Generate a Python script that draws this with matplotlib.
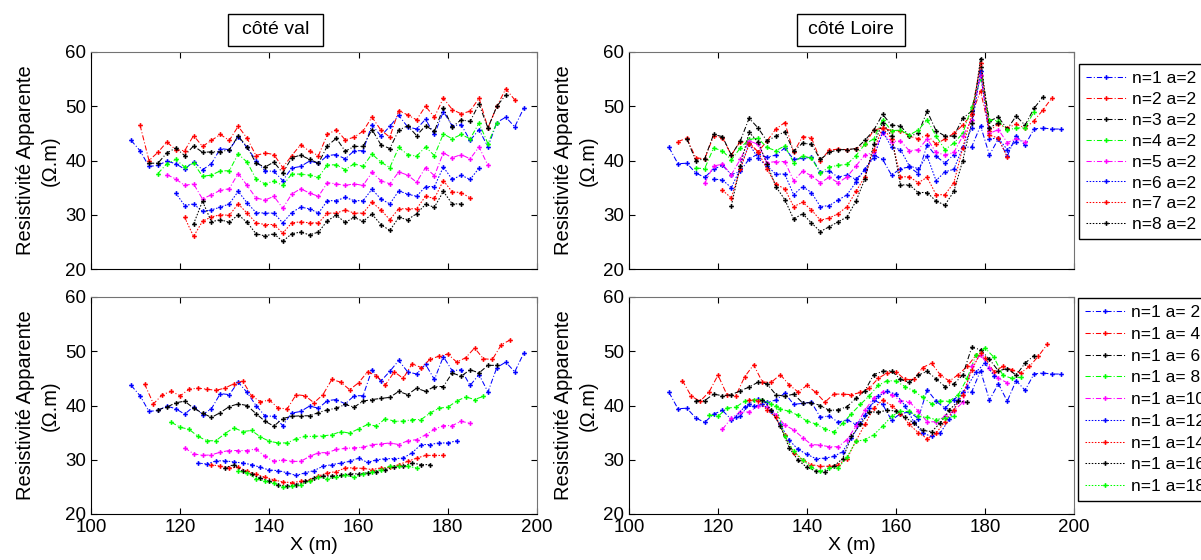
import numpy as np
import matplotlib.pyplot as plt
from matplotlib.patches import Rectangle

plt.rcParams['font.family'] = ['Liberation Sans', 'DejaVu Sans']

# first position of each series (m), one point every 2 m
top_start = [109, 111, 113, 115, 117, 119, 121, 123]
bot_start = [109, 112, 115, 118, 121, 124, 127, 130, 133]
step = 2

top_labels = ['n=1 a=2', 'n=2 a=2', 'n=3 a=2', 'n=4 a=2', 'n=5 a=2',
              'n=6 a=2', 'n=7 a=2', 'n=8 a=2']
bot_labels = ['n=1 a= 2', 'n=1 a= 4', 'n=1 a= 6', 'n=1 a= 8', 'n=1 a=10',
              'n=1 a=12', 'n=1 a=14', 'n=1 a=16', 'n=1 a=18']

# cote val, a=2, n=1..8
val_n1 = [43.7, 41.8, 38.9, 39.1, 39.9, 39.4, 38.4, 39.8, 38.3, 39.4, 42.2, 42.0, 44.3, 42.4, 40.0,
          38.1, 38.0, 36.3, 38.6, 38.9, 39.9, 39.5, 40.9, 41.1, 40.3, 41.8, 41.8, 46.6, 44.5, 46.3,
          48.3, 46.2, 45.8, 47.6, 44.8, 49.0, 46.4, 46.6, 43.7, 45.7, 42.5, 47.0, 48.0, 46.2, 49.6]
val_n2 = [46.5, 40.0, 41.5, 43.4, 42.0, 41.8, 44.6, 42.6, 43.7, 44.8, 43.7, 46.3, 44.1, 40.9, 41.4,
          41.1, 38.7, 40.9, 42.9, 41.7, 40.9, 44.8, 45.7, 43.8, 44.3, 45.4, 48.0, 45.6, 44.3, 49.2,
          48.4, 47.5, 50.0, 48.0, 51.5, 49.4, 48.6, 49.1, 51.5, 46.0, 50.0, 53.2, 51.2]
val_n3 = [39.5, 39.5, 41.4, 42.3, 40.9, 42.7, 41.5, 41.6, 41.6, 42.0, 44.5, 42.5, 39.5, 38.8, 39.7,
          37.7, 40.5, 41.0, 40.2, 39.5, 42.7, 44.1, 41.7, 42.6, 42.6, 45.7, 42.9, 42.2, 45.6, 46.4,
          44.6, 46.4, 45.4, 49.7, 46.2, 47.5, 47.2, 50.4, 46.0, 50.0, 52.1]
val_n4 = [37.6, 39.4, 40.2, 38.8, 39.5, 37.1, 37.3, 38.1, 38.1, 41.2, 39.7, 36.6, 35.7, 36.2, 35.4,
          37.5, 37.5, 37.3, 36.9, 39.2, 39.2, 38.3, 39.4, 38.9, 41.2, 39.7, 38.7, 42.4, 41.1, 40.8,
          42.5, 40.9, 44.9, 44.0, 44.8, 44.0, 46.9, 43.1, 47.0]
val_n5 = [37.4, 36.6, 35.4, 35.7, 32.9, 33.7, 34.5, 34.8, 37.6, 35.4, 33.1, 32.7, 33.4, 31.2, 33.8,
          34.8, 34.0, 33.4, 35.9, 35.7, 35.4, 35.7, 35.4, 37.8, 36.3, 35.7, 37.9, 37.3, 36.0, 38.7,
          37.2, 41.4, 40.5, 41.1, 40.3, 42.5, 39.1]
val_n6 = [34.0, 31.7, 32.0, 30.6, 30.9, 31.4, 32.0, 34.3, 32.2, 30.4, 30.3, 30.3, 28.5, 30.4, 31.4,
          31.1, 30.3, 32.6, 32.6, 33.2, 32.6, 32.6, 34.7, 32.9, 32.0, 34.4, 33.8, 33.4, 35.2, 35.2,
          38.8, 36.5, 37.3, 36.5, 38.6]
val_n7 = [29.5, 26.0, 28.8, 29.6, 30.0, 29.9, 32.0, 30.3, 28.5, 28.2, 28.2, 26.6, 28.5, 28.7, 28.5,
          28.5, 30.3, 30.3, 30.9, 30.3, 30.3, 32.3, 30.9, 29.1, 31.1, 31.1, 31.1, 33.4, 33.0, 36.3,
          34.2, 34.1, 33.1]
val_n8 = [28.3, 32.5, 28.7, 29.1, 28.6, 30.0, 28.6, 26.5, 26.1, 26.5, 25.1, 26.5, 26.8, 26.3, 26.8,
          28.9, 29.9, 28.6, 29.5, 28.8, 30.1, 28.2, 27.1, 29.5, 29.1, 30.2, 31.9, 31.4, 34.3, 32.0,
          32.0]

# cote val, n=1, a=4..18 (a=2 is val_n1)
val_a4 = [44.0, 40.3, 42.0, 42.6, 41.8, 43.0, 43.2, 43.0, 42.8, 43.2, 44.0, 44.5, 41.8, 40.7, 41.0,
          39.5, 39.4, 42.0, 41.8, 40.5, 42.0, 44.8, 44.3, 42.9, 44.2, 46.2, 45.5, 43.8, 46.2, 45.0,
          47.7, 47.0, 48.5, 49.1, 49.5, 48.0, 48.8, 50.6, 48.6, 48.5, 51.2, 52.1]
val_a6 = [39.2, 39.7, 40.5, 40.8, 39.5, 38.6, 37.8, 38.7, 39.8, 40.3, 40.0, 38.5, 37.1, 36.2, 37.6,
          38.0, 38.1, 38.1, 38.7, 39.2, 39.5, 40.2, 39.7, 40.8, 41.1, 41.3, 41.5, 42.6, 42.0, 43.2,
          42.6, 43.5, 43.5, 46.0, 45.4, 46.6, 46.0, 47.4, 47.4]
val_a8 = [36.9, 36.0, 35.6, 34.3, 33.5, 33.5, 34.8, 35.9, 35.2, 35.4, 34.2, 33.4, 33.1, 33.1, 33.9,
          34.3, 34.3, 34.4, 34.6, 35.2, 34.9, 35.7, 36.5, 36.2, 37.6, 37.1, 37.1, 37.4, 37.4, 38.6,
          39.5, 39.7, 40.8, 41.6, 41.1, 41.7]
val_a10 = [32.2, 31.1, 30.8, 30.9, 31.4, 31.7, 31.7, 31.7, 32.0, 30.6, 29.7, 30.0, 29.7, 29.7, 30.6,
           31.3, 31.3, 31.9, 32.1, 32.2, 32.3, 32.8, 32.9, 33.1, 32.8, 33.5, 33.7, 34.6, 35.6, 36.3,
           36.3, 37.1, 36.7]
val_a12 = [29.4, 29.2, 29.8, 29.8, 29.6, 29.4, 29.1, 28.6, 28.1, 28.0, 27.6, 27.1, 27.6, 28.0, 28.8,
           29.1, 29.4, 29.7, 30.3, 29.5, 30.0, 30.2, 30.2, 30.3, 31.3, 32.8, 32.8, 33.1, 33.1, 33.5]
val_a14 = [29.1, 28.8, 28.5, 28.6, 27.9, 27.3, 26.8, 26.3, 25.9, 25.8, 26.0, 26.3, 27.0, 27.6, 27.8,
           28.5, 28.5, 28.4, 28.2, 28.5, 28.6, 29.1, 29.7, 30.3, 30.8, 30.8, 30.8]
val_a16 = [28.5, 29.1, 27.9, 27.3, 26.6, 26.0, 25.3, 25.1, 25.4, 26.0, 26.6, 27.0, 27.0, 27.1, 27.4,
           27.4, 27.6, 27.8, 28.2, 28.6, 28.8, 29.4, 29.1, 29.1]
val_a18 = [27.9, 27.6, 26.5, 26.0, 25.7, 24.9, 25.1, 25.4, 26.0, 26.8, 26.5, 26.8, 27.1, 26.8, 27.4,
           27.8, 28.2, 28.8, 28.8, 28.8, 28.5]

# cote Loire, a=2, n=1..8
loire_n1 = [42.4, 39.4, 39.5, 37.7, 36.9, 38.4, 39.1, 37.4, 38.0, 40.3, 41.2, 40.6, 41.0, 42.3, 40.2,
            40.4, 40.6, 37.8, 38.1, 36.9, 37.4, 36.5, 38.2, 41.0, 40.2, 37.3, 38.5, 38.8, 37.6, 42.9,
            40.8, 39.5, 41.1, 42.4, 42.5, 46.4, 41.0, 44.0, 40.8, 44.6, 42.8, 45.8, 46.0, 45.8, 45.8]
loire_n2 = [43.5, 44.1, 40.5, 40.3, 44.5, 44.2, 41.0, 43.5, 43.3, 41.6, 43.6, 45.8, 47.0, 41.5, 44.4,
            44.2, 40.0, 41.9, 42.1, 42.0, 42.2, 43.0, 45.6, 46.0, 45.5, 45.5, 44.5, 44.0, 44.7, 43.0,
            44.0, 45.0, 46.5, 48.5, 52.8, 45.5, 46.7, 46.0, 46.7, 46.0, 47.3, 49.3, 51.5]
loire_n3 = [44.0, 40.0, 40.3, 44.8, 44.4, 41.0, 43.6, 47.8, 46.0, 43.6, 44.5, 45.3, 41.7, 43.2, 43.0,
            40.2, 41.5, 42.0, 42.0, 42.2, 43.7, 45.6, 48.5, 46.5, 46.4, 44.5, 45.0, 49.1, 45.5, 44.5,
            44.5, 47.8, 49.1, 57.2, 47.3, 48.0, 45.8, 48.2, 46.5, 49.6, 51.7]
loire_n4 = [38.6, 38.5, 42.3, 41.8, 40.1, 42.3, 43.9, 44.1, 42.4, 41.8, 42.7, 39.6, 40.9, 40.4, 37.7,
            38.8, 39.1, 39.3, 40.9, 43.0, 44.0, 47.5, 45.5, 45.6, 44.7, 45.6, 47.5, 44.5, 42.0, 43.2,
            45.0, 49.8, 55.0, 47.5, 47.3, 45.6, 46.0, 46.0, 49.0]
loire_n5 = [35.8, 39.0, 39.3, 37.4, 40.2, 43.6, 43.0, 39.6, 39.8, 39.8, 36.3, 38.0, 37.2, 35.9, 36.9,
            35.9, 37.0, 39.0, 41.0, 41.5, 45.0, 43.5, 43.6, 41.8, 42.0, 44.0, 41.5, 41.0, 41.5, 44.5,
            47.5, 55.8, 45.0, 45.7, 43.3, 44.0, 43.5]
loire_n6 = [36.6, 36.4, 35.0, 38.5, 43.1, 40.4, 39.0, 37.5, 37.5, 33.7, 35.2, 34.1, 31.5, 31.7, 32.7,
            33.7, 36.0, 38.5, 40.5, 45.3, 42.5, 42.0, 39.0, 38.5, 40.8, 36.3, 37.9, 38.4, 42.4, 46.0,
            56.5, 44.0, 44.1, 42.0, 43.5]
loire_n7 = [34.5, 33.1, 38.4, 43.0, 41.6, 38.4, 35.6, 34.8, 31.5, 32.3, 30.9, 29.0, 29.4, 30.2, 31.5,
            34.3, 37.0, 42.0, 46.0, 44.0, 37.0, 37.0, 35.9, 36.9, 33.7, 33.7, 35.9, 42.3, 48.5, 57.9,
            44.7, 44.1, 40.6]
loire_n8 = [31.7, 39.0, 45.2, 43.4, 39.4, 35.2, 32.8, 29.2, 30.2, 28.5, 26.9, 27.8, 28.7, 29.6, 32.5,
            36.6, 43.0, 47.0, 44.5, 35.5, 35.5, 34.1, 34.1, 32.5, 31.8, 34.3, 40.0, 47.0, 58.8, 46.0,
            47.0]

# cote Loire, n=1, a=4..18 (a=2 is loire_n1)
loire_a4 = [44.6, 41.7, 40.8, 42.5, 45.6, 42.0, 41.8, 45.3, 47.5, 44.3, 44.3, 45.7, 43.8, 42.5, 43.7,
            42.4, 40.6, 42.1, 42.1, 42.0, 42.4, 43.2, 45.0, 46.0, 46.2, 44.8, 44.8, 47.0, 47.8, 45.6,
            44.5, 45.7, 47.2, 49.3, 48.8, 46.2, 47.2, 46.6, 46.0, 47.2, 49.1, 51.3]
loire_a6 = [40.9, 40.9, 42.1, 41.8, 42.0, 42.7, 43.4, 44.3, 44.0, 42.0, 41.7, 42.1, 40.5, 40.5, 40.0,
            39.1, 39.2, 39.8, 41.3, 42.7, 45.7, 46.3, 46.4, 44.8, 44.3, 45.6, 46.3, 44.9, 43.5, 44.0,
            45.6, 50.7, 50.3, 48.5, 46.4, 46.8, 45.6, 47.8, 49.2]
loire_a8 = [38.3, 38.0, 39.5, 39.7, 40.8, 41.1, 41.1, 40.3, 39.4, 38.9, 38.2, 37.1, 36.6, 35.7, 35.1,
            36.7, 38.5, 40.2, 41.8, 43.7, 44.6, 44.5, 43.5, 42.7, 41.5, 40.3, 40.8, 40.8, 42.0, 45.0,
            49.4, 50.6, 48.9, 45.6, 45.0, 45.2]
loire_a10 = [35.6, 37.7, 38.8, 38.8, 39.9, 39.7, 38.3, 36.4, 35.5, 34.1, 32.8, 32.7, 32.4, 32.4, 33.7,
             36.2, 39.1, 41.4, 42.5, 42.0, 40.9, 40.7, 39.0, 37.0, 37.0, 38.0, 39.0, 40.6, 47.2, 49.4,
             47.0, 45.0, 44.2]
loire_a12 = [37.9, 39.8, 39.9, 40.2, 38.9, 36.5, 33.6, 31.9, 31.0, 30.2, 30.3, 30.6, 31.5, 34.0, 36.8,
             39.5, 41.7, 42.6, 42.1, 40.0, 37.0, 34.9, 34.3, 35.0, 37.5, 41.0, 43.5, 46.2, 47.8, 45.5]
loire_a14 = [41.1, 40.9, 39.2, 37.8, 34.5, 31.3, 30.0, 29.1, 28.8, 28.8, 29.1, 30.2, 33.5, 36.5, 39.5,
             41.0, 40.0, 38.5, 36.5, 35.0, 33.9, 34.9, 37.0, 39.2, 42.0, 46.5, 49.7]
loire_a16 = [41.1, 39.1, 36.2, 32.2, 29.9, 28.6, 27.9, 27.7, 28.8, 30.2, 34.3, 36.5, 38.8, 38.8, 39.1,
             39.0, 37.8, 36.8, 35.4, 35.2, 36.8, 39.2, 40.8, 40.6]
loire_a18 = [40.0, 34.3, 31.6, 30.0, 28.6, 27.9, 28.5, 28.5, 30.5, 33.4, 33.7, 34.6, 36.2, 38.0, 38.9,
             38.9, 38.0, 37.8, 37.4, 37.7, 38.0]

colors = ['blue', 'red', 'black', 'lime', 'magenta', 'blue', 'red', 'black', 'lime']
dashdot = (0, (5, 2, 1, 2))
dotted = (0, (1.5, 1.5))
styles = [dashdot] * 5 + [dotted] * 4

W, H = 1201, 560
fig = plt.figure(figsize=(W / 100, H / 100), dpi=100)


def box(x0, y0, x1, y1):
    return [x0 / W, 1 - y1 / H, (x1 - x0) / W, (y1 - y0) / H]


ax_tl = fig.add_axes(box(91, 52, 537, 269))
ax_tr = fig.add_axes(box(629, 52, 1074, 269))
ax_bl = fig.add_axes(box(91, 297, 537, 514))
ax_br = fig.add_axes(box(629, 297, 1074, 514))


def draw(ax, starts, series, labels):
    for i, (x0, v, lab) in enumerate(zip(starts, series, labels)):
        x = x0 + step * np.arange(len(v))
        ax.plot(x, v, color=colors[i], linestyle=styles[i], linewidth=0.75,
                marker='P', markersize=3.4, markeredgewidth=0, label=lab)


def style(ax, xlabels):
    ax.set_xlim(100, 200)
    ax.set_ylim(20, 60)
    ax.set_xticks(range(100, 201, 20))
    ax.set_yticks(range(20, 61, 10))
    ax.tick_params(direction='in', top=True, right=True, length=4, width=0.8,
                   labelsize=13.5, labelbottom=xlabels)
    ax.set_ylabel('Resistivité Apparente\n(Ω.m)', fontsize=14.5, linespacing=1.4)
    if xlabels:
        ax.set_xlabel('X (m)', fontsize=14, labelpad=1)
    for s in ['top', 'right']:
        ax.spines[s].set_color('0.45')
    for s in ['left', 'bottom']:
        ax.spines[s].set_color('black')


draw(ax_tl, top_start, [val_n1, val_n2, val_n3, val_n4, val_n5, val_n6, val_n7, val_n8], top_labels)
draw(ax_tr, top_start, [loire_n1, loire_n2, loire_n3, loire_n4, loire_n5, loire_n6, loire_n7, loire_n8], top_labels)
draw(ax_bl, bot_start, [val_n1, val_a4, val_a6, val_a8, val_a10, val_a12, val_a14, val_a16, val_a18], bot_labels)
draw(ax_br, bot_start, [loire_n1, loire_a4, loire_a6, loire_a8, loire_a10, loire_a12, loire_a14, loire_a16, loire_a18], bot_labels)

for ax, lab in [(ax_tl, False), (ax_tr, False), (ax_bl, True), (ax_br, True)]:
    style(ax, lab)

leg_kw = dict(loc='upper left', bbox_transform=fig.transFigure, borderaxespad=0,
              fontsize=12.5, fancybox=False, framealpha=1, edgecolor='black',
              handlelength=2.3, handletextpad=0.35, borderpad=0.4)
l1 = ax_tr.legend(bbox_to_anchor=(1079 / W, 1 - 64 / H), labelspacing=0.33, **leg_kw)
l2 = ax_br.legend(bbox_to_anchor=(1078 / W, 1 - 298 / H), labelspacing=0.38, **leg_kw)
for leg in (l1, l2):
    leg.get_frame().set_linewidth(1)

# title boxes
for x0, x1, txt in [(228, 323, 'côté val'), (797, 905, 'côté Loire')]:
    fig.add_artist(Rectangle((x0 / W, 1 - 46 / H), (x1 - x0) / W, 32 / H,
                             transform=fig.transFigure, fill=False,
                             edgecolor='black', linewidth=1))
    fig.text((x0 + x1) / 2 / W, 1 - 30 / H, txt, ha='center', va='center', fontsize=14)

fig.savefig('out.png', dpi=100)
